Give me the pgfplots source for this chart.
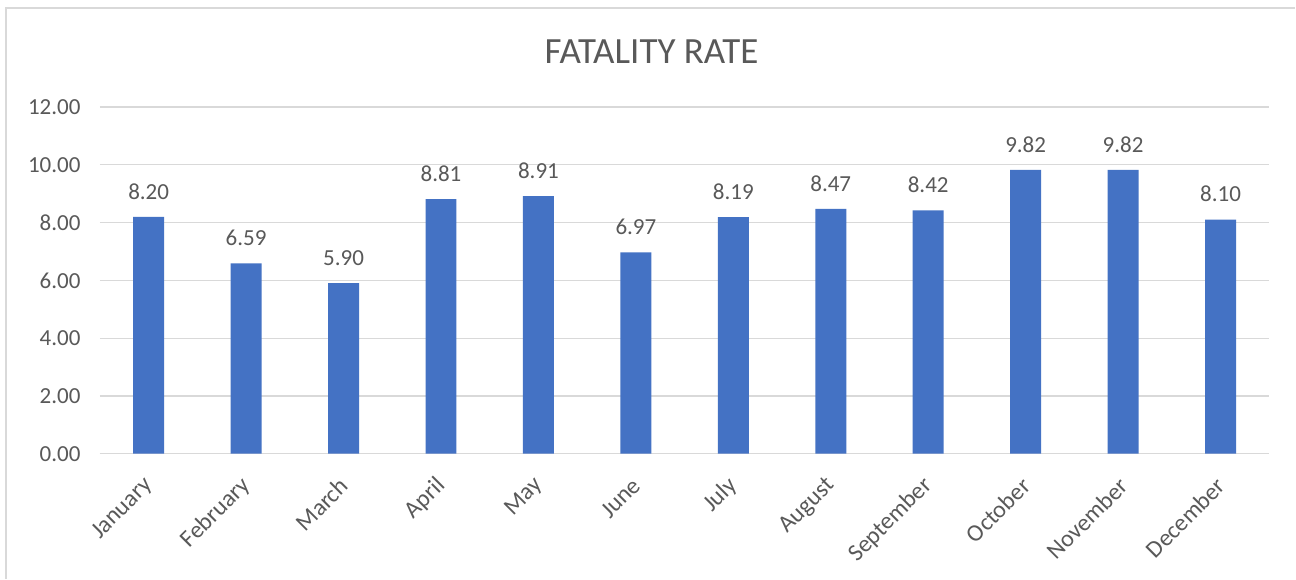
\documentclass[border=0pt]{standalone}
\usepackage{fontspec}
\setmainfont{Carlito}
\usepackage{pgfplots}
\pgfplotsset{compat=1.18}
\definecolor{barblue}{HTML}{4472C4}
\definecolor{txt}{HTML}{595959}
\definecolor{grid}{HTML}{D9D9D9}
\begin{document}
\begin{tikzpicture}[x=1pt,y=1pt]
\path[fill=white] (0,0) rectangle (1296,579);
\draw[color=grid, line width=1.5pt] (6,0) -- (6,571) -- (1296,571);
\node[text=txt, font=\fontsize{37}{44}\selectfont] at (652,527) {FATALITY RATE};
\begin{axis}[
  at={(100pt,125pt)}, anchor=south west,
  scale only axis, width=1170pt, height=347pt,
  xmin=-0.5, xmax=11.5, ymin=0, ymax=12,
  ytick={0,2,...,12},
  xtick={0,...,11},
  xticklabels={January,February,March,April,May,June,July,August,September,October,November,December},
  axis line style={draw=none},
  axis x line*=bottom,
  x axis line style={draw=grid, line width=1.5pt},
  ymajorgrids, grid style={draw=grid, line width=1.2pt},
  major tick length=0pt,
  tick label style={text=txt, font=\fontsize{23}{27}\selectfont},
  yticklabel style={/pgf/number format/.cd, fixed, fixed zerofill, precision=2, /tikz/.cd, anchor=east, xshift=-16pt},
  /pgf/number format/assume math mode=true,
  xticklabel style={xshift=3pt, yshift=-26pt, rotate=45, anchor=east, font=\fontsize{24}{28}\selectfont},
  enlargelimits=false, clip=false,
  nodes near coords,
  nodes near coords style={text=txt, font=\fontsize{23}{27}\selectfont, /pgf/number format/.cd, fixed, fixed zerofill, precision=2, /tikz/.cd, anchor=south, yshift=14pt},
]
\addplot[ybar, bar width=31pt, fill=barblue, draw=none] coordinates {
(0,8.20) (1,6.59) (2,5.90) (3,8.81) (4,8.91) (5,6.97) (6,8.19) (7,8.47) (8,8.42) (9,9.82) (10,9.82) (11,8.10)};
\end{axis}
\end{tikzpicture}
\end{document}
